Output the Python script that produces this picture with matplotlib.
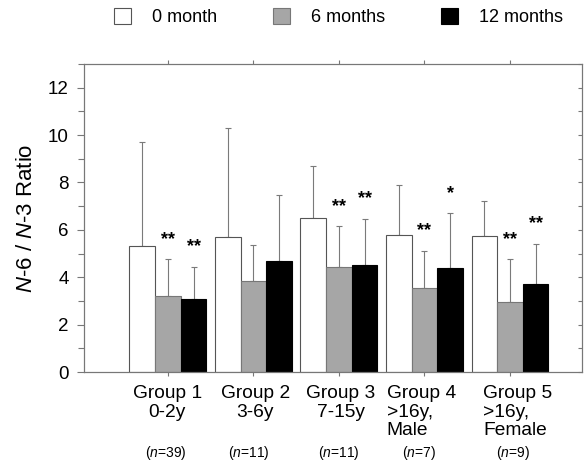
import matplotlib
matplotlib.use('Agg')
import matplotlib.pyplot as plt
import numpy as np

plt.rcParams['font.family'] = ['Liberation Sans', 'DejaVu Sans']
plt.rcParams['mathtext.fontset'] = 'custom'
plt.rcParams['mathtext.rm'] = 'Liberation Sans'
plt.rcParams['mathtext.it'] = 'Liberation Sans:italic'

# data
groups = ['Group 1\n0-2y', 'Group 2\n3-6y', 'Group 3\n7-15y',
          'Group 4\n>16y,\nMale', 'Group 5\n>16y,\nFemale']
n_labels = ['($n$=39)', '($n$=11)', '($n$=11)', '($n$=7)', '($n$=9)']
series = ['0 month', '6 months', '12 months']

month0 = [5.3, 5.7, 6.5, 5.8, 5.75]
month0_sd = [4.4, 4.6, 2.2, 2.1, 1.45]
month6 = [3.2, 3.85, 4.45, 3.55, 2.95]
month6_sd = [1.55, 1.5, 1.7, 1.55, 1.8]
month12 = [3.1, 4.7, 4.5, 4.4, 3.7]
month12_sd = [1.35, 2.75, 1.95, 2.3, 1.7]

stars6 = ['**', '', '**', '**', '**']
stars12 = ['**', '', '**', '*', '**']

x = np.arange(len(groups))
w = 0.3

fig = plt.figure(figsize=(5.86, 4.63), dpi=100)
ax = fig.add_axes([0.1433, 0.1965, 0.8499, 0.6653])

cols = ['white', '#a6a6a6', 'black']
edges = ['#555555', '#777777', 'black']
vals = [month0, month6, month12]
sds = [month0_sd, month6_sd, month12_sd]
handles = []
for k in range(3):
    xs = x + (k - 1) * w
    v = np.array(vals[k])
    e = np.array(sds[k])
    b = ax.bar(xs, v, width=w, color=cols[k], edgecolor=edges[k],
               linewidth=0.8, zorder=2, label=series[k])
    handles.append(b)
    ax.errorbar(xs, v, yerr=[np.zeros_like(e), e], fmt='none',
                ecolor='#7a7a7a', elinewidth=0.8, capsize=2.2,
                capthick=0.8, zorder=1)

for i in range(len(groups)):
    top6 = month6[i] + month6_sd[i]
    top12 = month12[i] + month12_sd[i]
    if stars6[i]:
        ax.text(x[i], top6 + 0.66, stars6[i], ha='center', va='baseline',
                fontsize=13, fontweight='bold')
    if stars12[i]:
        ax.text(x[i] + w, top12 + 0.66, stars12[i], ha='center',
                va='baseline', fontsize=13, fontweight='bold')

ax.set_xlim(-0.982, 4.842)
ax.set_ylim(0, 13)
ax.set_yticks(range(0, 13, 2))
ax.set_yticks(range(0, 14), minor=True)
ax.set_xticks(x)
ax.set_xticklabels([])
ax.tick_params(axis='y', which='both', direction='out', labelsize=13.5,
               pad=6, color='#777777', width=0.8)
ax.tick_params(axis='y', which='major', length=5)
ax.tick_params(axis='y', which='minor', length=4)
ax.tick_params(axis='x', direction='out', top=True, length=3,
               color='#777777', width=0.8)

# right axis: inward ticks every unit
ax2 = ax.twinx()
ax2.set_ylim(0, 13)
ax2.set_yticks(range(0, 14))
ax2.set_yticklabels([])
ax2.tick_params(axis='y', direction='in', length=3, color='#777777',
                width=0.8)
for a in (ax, ax2):
    for s in a.spines.values():
        s.set_color('#777777')
        s.set_linewidth(0.8)

ax.set_ylabel('$N$-6 / $N$-3 Ratio', fontsize=16, labelpad=8)

lab_off = [-0.01, 0.02, 0.02, -0.04, 0.09]
n_off = [-0.02, -0.05, 0.0, -0.06, 0.04]
for i, g in enumerate(groups):
    ax.annotate(g, xy=(x[i] + lab_off[i], 0), xycoords=('data', 'axes fraction'),
                xytext=(0, -9.5), textcoords='offset points',
                ha='center', va='top', multialignment='left' if i > 2 else 'center',
                fontsize=13.8, linespacing=1.12)
    ax.annotate(n_labels[i], xy=(x[i] + n_off[i], 0),
                xycoords=('data', 'axes fraction'),
                xytext=(0, -58.5), textcoords='offset points',
                ha='center', va='center', fontsize=10)

fig.legend(handles=handles, labels=series, loc='center', ncol=3,
           bbox_to_anchor=(0.578, 0.963), frameon=False, fontsize=13,
           handlelength=0.95, handleheight=0.95, handletextpad=1.15,
           columnspacing=3.1)

plt.savefig('out.png', dpi=100)
